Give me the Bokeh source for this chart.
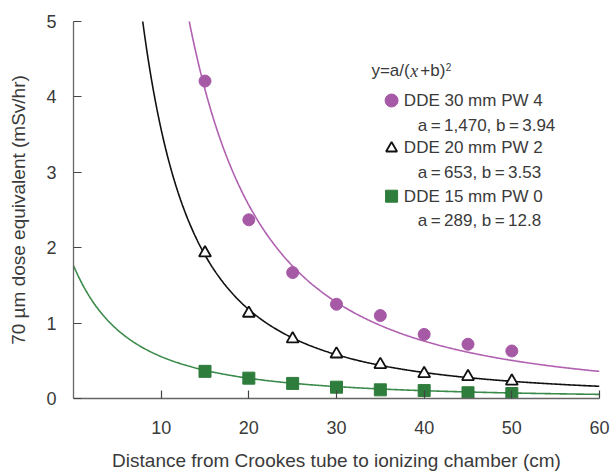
import numpy as np
from bokeh.plotting import figure
from bokeh.models import Label, FixedTicker
from bokeh.embed import file_html
from bokeh.resources import INLINE

# ---- data ----
distance_cm = [15, 20, 25, 30, 35, 40, 45, 50]
dde30_pw4 = [4.21, 2.37, 1.67, 1.25, 1.10, 0.85, 0.72, 0.63]
dde20_pw2 = [1.93, 1.13, 0.79, 0.59, 0.45, 0.33, 0.29, 0.23]
dde15_pw0 = [0.36, 0.27, 0.20, 0.15, 0.115, 0.105, 0.076, 0.066]

# fitted model y = a/(x+b)^2 (parameters as printed in the chart)
fit_a = [1470, 653, 289]
fit_b = [3.94, 3.53, 12.8]
series_names = ["DDE 30 mm PW 4", "DDE 20 mm PW 2", "DDE 15 mm PW 0"]
param_texts = ["a\u2009=\u20091,470, b\u2009=\u20093.94",
               "a\u2009=\u2009653, b\u2009=\u20093.53",
               "a\u2009=\u2009289, b\u2009=\u200912.8"]

x_ticks = [10, 20, 30, 40, 50, 60]
y_ticks = [0, 1, 2, 3, 4, 5]

PURPLE = "#a65aa6"
BLACK = "#111111"
GREEN = "#2e7d3c"
FONT = "Liberation Sans"
TXT = "#3a3a3a"

p = figure(width=612, height=474, x_range=(0, 60), y_range=(0, 5),
           output_backend="svg", toolbar_location=None,
           min_border_left=73, min_border_right=13, min_border_top=21,
           min_border_bottom=76)
p.outline_line_color = None
p.xgrid.visible = False
p.ygrid.visible = False
p.background_fill_color = "white"

# fitted curves
xs = np.linspace(0, 60, 600)
curve_colors = ["#b060b0", BLACK, "#3a8a4a"]
for a, b, c in zip(fit_a, fit_b, curve_colors):
    p.line(xs, a / (xs + b) ** 2, line_color=c, line_width=1.6)

# data points
p.scatter(distance_cm, dde30_pw4, marker="circle", size=12,
          fill_color=PURPLE, line_color=PURPLE)
p.scatter(distance_cm, dde20_pw2, marker="triangle", size=12,
          fill_color="white", line_color=BLACK, line_width=1.8)
p.scatter(distance_cm, dde15_pw0, marker="square", size=12,
          fill_color=GREEN, line_color=GREEN)

# axes
for ax in (p.xaxis[0], p.yaxis[0]):
    ax.axis_line_color = "#666666"
    ax.axis_line_width = 1.3
    ax.major_tick_line_color = "#444444"
    ax.major_tick_line_width = 1.2
    ax.major_tick_in = 8
    ax.major_tick_out = 0
    ax.minor_tick_line_color = None
    ax.major_label_text_font = FONT
    ax.major_label_text_font_size = "18px"
    ax.major_label_text_color = TXT
    ax.axis_label_text_font = FONT
    ax.axis_label_text_font_size = "19px"
    ax.axis_label_text_font_style = "normal"
    ax.axis_label_text_color = TXT

p.xaxis.ticker = FixedTicker(ticks=x_ticks)
p.yaxis.ticker = FixedTicker(ticks=y_ticks)
p.xaxis.axis_label = "Distance from Crookes tube to ionizing chamber (cm)"
p.yaxis.axis_label = "70 \u00b5m dose equivalent (mSv/hr)"
p.xaxis.major_label_standoff = 22
p.xaxis.axis_label_standoff = 13
p.yaxis.major_label_standoff = 17
p.yaxis.axis_label_standoff = 14

# ---- legend (reference-pixel layout converted to data units) ----
def dx(px):
    return (px - 74.5) / 8.77

def dy(py):
    return (399 - py) / 75.4

def lab(text, px, py, size="17px", font=FONT, style="normal", color=TXT):
    p.add_layout(Label(x=dx(px), y=dy(py), text=text, text_font=font,
                       text_font_size=size, text_font_style=style,
                       text_color=color, text_baseline="middle",
                       text_align="left"))

# formula y = a/(x+b)^2
lab("y=a/(", 372.5, 71)
lab("x", 411.5, 71, font="Liberation Serif", style="italic", size="18px")
lab("+b)", 421.5, 71)
lab("2", 447, 67, size="10px")

key_x = 392.7
row_y = [101, 148.3, 196.7]
p.scatter([dx(key_x)], [dy(row_y[0])], marker="circle", size=13,
          fill_color=PURPLE, line_color=PURPLE)
p.scatter([dx(key_x)], [dy(row_y[1] + 0.5)], marker="triangle", size=11,
          fill_color="white", line_color=BLACK, line_width=1.8)
p.scatter([dx(key_x)], [dy(row_y[2])], marker="square", size=12,
          fill_color=GREEN, line_color=GREEN)
for name, par, ry in zip(series_names, param_texts, row_y):
    lab(name, 405, ry)
    lab(par, 419, ry + 24.5)

open("out.html", "w").write(file_html(p, INLINE))
